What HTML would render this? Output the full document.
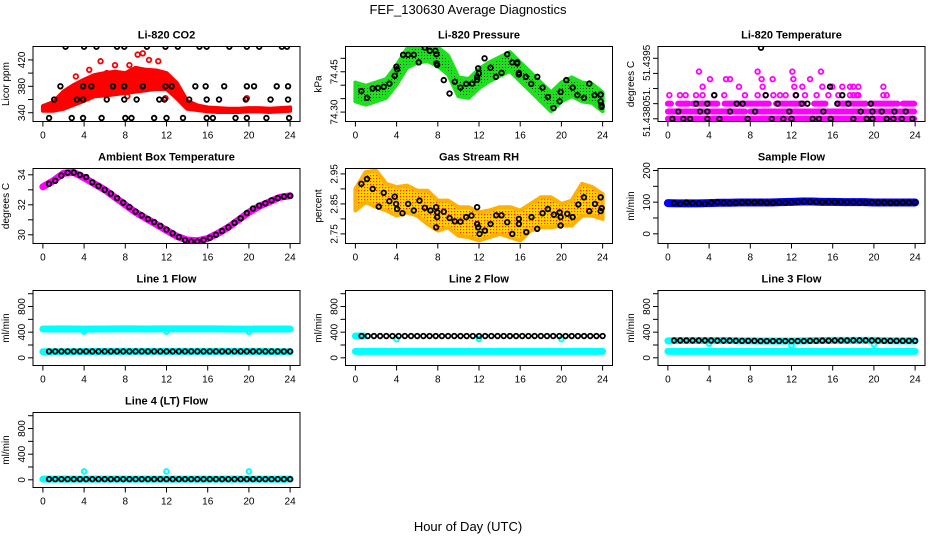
<!DOCTYPE html>
<html><head><meta charset="utf-8">
<style>
html,body{margin:0;padding:0;background:#fff;}
svg{display:block;font-family:"Liberation Sans",Arial,sans-serif;}
</style></head>
<body>
<svg id="chart" width="936" height="540" viewBox="0 0 936 540" xmlns="http://www.w3.org/2000/svg">
<defs>
<pattern id="patRH" width="3" height="3" patternUnits="userSpaceOnUse"><rect width="3" height="3" fill="#ffd400"/><rect x="1" y="1" width="1.2" height="1.2" fill="#ff2000"/></pattern>
<pattern id="patP" width="3" height="3" patternUnits="userSpaceOnUse"><rect width="3" height="3" fill="#1fe01f"/><rect x="1" y="1" width="1" height="1" fill="#064006"/></pattern>
</defs>
<text x="468" y="14" text-anchor="middle" font-size="13">FEF_130630  Average Diagnostics</text>
<text x="468" y="531" text-anchor="middle" font-size="13">Hour of Day (UTC)</text>
</svg>
<script>
// ---------- data ----------
const hours25 = [0,1,2,3,4,5,6,7,8,9,10,11,12,13,14,15,16,17,18,19,20,21,22,23,24];
const blackHours = [0.6,1.2,1.8,2.4,3.0,3.6,4.2,4.8,5.4,6.0,6.6,7.2,7.8,8.4,9.0,9.6,10.2,10.8,11.4,12.0,12.6,13.2,13.8,14.4,15.0,15.6,16.2,16.8,17.4,18.0,18.6,19.2,19.8,20.4,21.0,21.6,22.2,22.8,23.4,24.0];
const xTicks = [0,4,8,12,16,20,24];

// CO2
const co2RedLo = [343,343,346,352,358,365,366,368,370,372,374,376,376,362,346,344,342,341,341,341,342,342,341,342,343];
const co2RedHi = [350,356,372,382,390,397,400,402,400,408,405,404,400,385,358,351,348,347,346,346,347,347,346,347,348];
const co2RedOutHours = [3.2,4.5,5.6,6.2,7.0,8.2,8.4,9.2,9.7,10.3,11.2,11.9,19.8];
const co2RedOutVals = [395,405,418,400,412,365,412,428,430,420,418,362,362];
const co2Blk440 = [2.2,4.0,5.2,7.2,7.9,10.1,11.9,13.1,15.2,15.9,18.1,19.8,21.0,23.2,23.7];
const co2Blk380 = [1.7,3.9,4.7,6.8,7.9,9.7,11.9,12.5,14.8,15.8,17.6,19.8,20.5,22.7,23.8];
const co2Blk360 = [1.1,3.3,3.9,6.2,7.9,9.1,11.3,11.8,14.2,15.9,17.1,19.7,22.1,23.8];
const co2Blk332 = [0.6,2.8,3.9,5.7,8.0,8.6,10.8,12.0,13.6,15.9,16.5,18.7,19.8,21.7,23.9];

// Pressure
const presLo = [74.340,74.328,74.340,74.353,74.403,74.465,74.484,74.490,74.471,74.440,74.359,74.353,74.390,74.415,74.434,74.453,74.415,74.378,74.340,74.303,74.340,74.359,74.340,74.334,74.303];
const presHi = [74.410,74.398,74.410,74.423,74.473,74.535,74.554,74.560,74.541,74.510,74.429,74.423,74.460,74.485,74.504,74.523,74.485,74.448,74.410,74.373,74.410,74.429,74.410,74.404,74.373];
const presBlkHours = [0.58,1.13,1.68,2.2,2.75,3.3,3.82,3.98,4.05,4.63,5.12,5.67,6.15,6.74,7.22,7.77,7.87,7.87,7.94,8.58,9.14,9.65,10.2,10.76,11.34,11.82,11.82,11.92,11.99,12.54,13.12,13.64,14.19,14.74,15.22,15.71,15.71,15.87,15.87,16.55,17.07,17.66,18.17,18.69,19.24,19.83,19.92,20.48,21.09,21.55,22.19,22.71,23.23,23.81,23.81,23.9,23.9];
const presBlkVals = [74.378,74.353,74.388,74.39,74.394,74.406,74.435,74.469,74.459,74.513,74.513,74.513,74.485,74.54,74.528,74.528,74.515,74.481,74.475,74.419,74.369,74.413,74.391,74.405,74.406,74.421,74.431,74.463,74.444,74.50,74.465,74.431,74.446,74.515,74.485,74.481,74.485,74.44,74.446,74.431,74.405,74.431,74.391,74.356,74.315,74.34,74.375,74.419,74.391,74.363,74.353,74.406,74.363,74.365,74.34,74.325,74.319];

// Li-820 temperature
const tLevels = [51.43800,51.43824,51.43850,51.43878,51.43906,51.43931,51.43956];
const tRange0 = [[0,23.9]];
const tRange1 = [[0,7.5],[8.0,18.5],[19,23.9]];
const tRange2 = [[0,0.3],[1.0,2.0],[2.4,4.8],[5.5,9.8],[10.5,13.2],[14.2,15.3],[16.5,19.2],[19.7,22.3],[22.8,23.9]];
const tMag3 = [0.14,1.17,1.72,2.73,3.37,4.5,5.47,7.48,8.71,9.49,10.24,10.88,11.43,12.4,13.31,14.44,15.58,16.55,17.68,18.0,18.33,18.49,20.92,21.24];
const tMag4 = [3.37,6.9,9.2,12.27,13.05,14.99,15.96,16.93,17.68,18.0,18.49,20.92];
const tMag5 = [4.09,5.64,6.03,9.1,10.17,12.18,13.8];
const tMag6 = [3.02,8.71,12.08,14.86];
const tBlk0 = [0.43,1.5,2.15,3.83,5.0,7.74,10.07,11.2,12.0,14.05,14.67,15.8,18.0,19.3,19.85,21.24,21.89,22.7,23.73];
const tBlk1 = [1.01,3.12,3.83,6.03,8.46,11.79,15.1,18.72,19.85,20.76,21.99,23.09];
const tBlk2 = [2.73,3.83,6.68,7.26,10.66,12.99,13.54,16.45,17.52,19.69];
const tBlk3 = [4.5,9.49,12.44,16.93];
const tBlk4 = [15.74];
const tOutHours = [9.04];
const tOutVals = [51.44035];

// Ambient box temperature
const ambMag = [33.2,33.6,34.1,34.15,33.8,33.4,33.0,32.5,32.0,31.5,31.1,30.7,30.3,29.9,29.65,29.6,29.75,30.1,30.5,31.0,31.5,31.9,32.2,32.5,32.6];
const ambBlk = [33.4,33.6,33.95,34.15,34.15,34.0,33.85,33.5,33.25,33.0,32.75,32.45,32.15,31.85,31.55,31.3,31.05,30.85,30.6,30.35,30.1,29.85,29.65,29.55,29.55,29.65,29.8,30.0,30.25,30.5,30.8,31.1,31.45,31.75,31.95,32.1,32.3,32.45,32.55,32.6];

// Gas stream RH
const rhLo = [2.828,2.856,2.84,2.828,2.811,2.822,2.811,2.783,2.761,2.772,2.744,2.739,2.728,2.739,2.75,2.739,2.728,2.761,2.772,2.772,2.778,2.778,2.811,2.811,2.80];
const rhHi = [2.90,2.956,2.961,2.917,2.906,2.911,2.894,2.894,2.861,2.861,2.839,2.839,2.822,2.828,2.839,2.839,2.828,2.85,2.872,2.872,2.85,2.861,2.917,2.906,2.883];
const rhBlkHours = [0.58,1.13,1.68,2.27,2.75,3.30,3.82,3.95,4.05,4.57,5.12,5.67,6.22,6.74,7.29,7.84,7.94,7.94,7.84,8.58,9.14,9.65,10.2,10.75,11.27,11.82,11.82,11.92,12.05,12.57,13.12,13.67,14.19,14.74,15.23,15.87,15.87,16.59,17.1,17.65,18.17,18.69,19.27,19.83,19.92,19.92,20.57,21.09,21.64,22.19,22.71,23.26,23.81,23.81,23.91];
const rhBlkVals = [2.917,2.933,2.90,2.841,2.887,2.859,2.874,2.85,2.833,2.819,2.85,2.828,2.861,2.837,2.828,2.839,2.822,2.806,2.772,2.824,2.803,2.792,2.791,2.806,2.811,2.839,2.783,2.772,2.75,2.761,2.783,2.812,2.812,2.789,2.75,2.80,2.783,2.756,2.806,2.767,2.819,2.833,2.814,2.822,2.806,2.778,2.817,2.806,2.848,2.872,2.826,2.85,2.872,2.826,2.836];

// Sample flow
const sfBlue = [97,96,96,96,97,98,98,99,99,99,99,100,101,102,102,101,101,100,100,100,99,99,99,99,99];
const sfBlk = [97,95,99,97,96,95,99,100,98,97,98,99,100,99,100,98,98,99,99,100,101,102,101,101,100,101,100,101,100,100,99,99,100,99,99,98,98,99,99,99];

// Line flows
const l1CyanHi = [450,450,452,450,448,450,450,452,452,452,450,452,452,452,452,452,452,452,450,448,448,450,450,450,450];
const l1CyanLo = [95,95,95,96,97,98,99,100,100,100,100,100,100,100,100,100,100,100,100,100,100,100,98,95,95];
const l1DipHours = [4,12,20];
const l1DipVals = [410,410,405];
const l1Blk = [100,100,100,100,100,100,100,100,100,100,100,100,100,100,100,100,100,100,100,100,100,100,100,100,100,100,100,100,100,100,100,100,100,100,100,100,100,100,100,100];
const l2CyanHiHours = [0,0.8];
const l2CyanHiVals = [340,340];
const l2CyanLo = [100,100,100,100,100,100,100,100,100,100,100,100,100,100,100,100,100,100,100,100,100,100,100,100,100];
const l2DipHours = [4,12,20];
const l2DipVals = [290,295,290];
const l2Blk = [340,340,340,340,340,340,340,340,340,340,340,340,340,340,340,340,340,340,340,340,340,340,340,340,340,340,340,340,340,340,340,340,340,340,340,340,340,340,340,340];
const l3CyanHi = [265,270,270,270,270,270,270,265,265,262,262,262,262,265,268,270,272,272,272,272,272,268,265,265,265];
const l3CyanLo = [100,100,100,100,100,100,100,100,100,100,100,100,100,100,100,100,100,100,100,100,100,100,100,100,100];
const l3DipHours = [4,12,20];
const l3DipVals = [220,190,210];
const l3Blk = [270,270,270,270,270,270,270,268,268,268,266,265,265,265,262,262,262,262,262,262,262,262,265,265,268,268,270,270,270,272,272,272,270,268,265,265,265,265,265,265];
const l4Cyan = [10,10,10,10,10,10,10,10,10,10,10,10,10,10,10,10,10,10,10,10,10,10,10,10,10];
const l4SpikeHours = [4,12,20];
const l4SpikeVals = [130,130,130];
const l4Blk = [10,10,10,10,10,10,10,10,10,10,10,10,10,10,10,10,10,10,10,10,10,10,10,10,10,10,10,10,10,10,10,10,10,10,10,10,10,10,10,10];

// ---------- drawing ----------
const NS = "http://www.w3.org/2000/svg";
const svg = document.getElementById("chart");
const COLS = [33,345.5,658], ROWS = [46.5,168.5,290.5,412.5], W = 267, H = 75;
function mk(tag, attrs, parent) {
  const e = document.createElementNS(NS, tag);
  for (const k in attrs) e.setAttribute(k, attrs[k]);
  (parent || svg).appendChild(e);
  return e;
}
let clipId = 0;
function panel(col, row, name, title, ylab, lo, hi, yTicks, yLabels) {
  const L = COLS[col], T = ROWS[row], B = T + H;
  const x = h => L + (h + 0.96) / 25.92 * W;
  const y = v => T + H - (v - lo) / (hi - lo) * H;
  const g = mk("g", {});
  
  
  const cp = mk("clipPath", {id: "cp" + (++clipId)}, g);
  mk("rect", {x: L, y: T, width: W, height: H}, cp);
  const plot = mk("g", {"clip-path": "url(#cp" + clipId + ")"}, g);
  
  
  const box = mk("rect", {x: L, y: T, width: W, height: H, fill: "none", stroke: "#000", "stroke-width": 1}, g);
  
  
  const t = mk("text", {x: L + W / 2, y: T - 8, "text-anchor": "middle", "font-size": 11, "font-weight": "bold"}, g);
  t.textContent = title;
  
  
  const yl = mk("text", {x: 0, y: 0, transform: "translate(" + (L - 24) + "," + (T + H / 2) + ") rotate(-90)", "text-anchor": "middle", "font-size": 10}, g);
  yl.textContent = ylab;
  
  
  const xa = mk("g", {}, g);
  
  
  mk("line", {x1: x(0), x2: x(24), y1: B, y2: B, stroke: "#000"}, xa);
  xTicks.forEach(v => {
    mk("line", {x1: x(v), x2: x(v), y1: B, y2: B + 5, stroke: "#000"}, xa);
    const tl = mk("text", {x: x(v), y: B + 17, "text-anchor": "middle", "font-size": 10}, xa);
    tl.textContent = String(v);
    
    
  });
  const ya = mk("g", {}, g);
  
  
  yTicks.forEach(v => mk("line", {x1: L - 5, x2: L, y1: y(v), y2: y(v), stroke: "#000"}, ya));
  yLabels.forEach(p => {
    const tl = mk("text", {x: 0, y: 0, transform: "translate(" + (L - 8) + "," + y(p[0]) + ") rotate(-90)", "text-anchor": "middle", "font-size": 10}, ya);
    tl.textContent = p[1];
    
    
  });
  return {x, y, g: plot};
}
function pts(p, hs, vs, color, name, sw) {
  const g = mk("g", {fill: "none", stroke: color, "stroke-width": sw || 1.8}, p.g);
  
  
  hs.forEach((h, i) => {
    const c = mk("circle", {cx: p.x(h), cy: p.y(vs[i]), r: 2.3}, g);
    
    
  });
}
function levelPts(p, hs, v, color, name) { pts(p, hs, hs.map(() => v), color, name); }
function band(p, hs, lo, hi, fill, stroke, name) {
  let d = "M" + hs.map((h, i) => p.x(h) + "," + p.y(hi[i])).join("L");
  for (let i = hs.length - 1; i >= 0; i--) d += "L" + p.x(hs[i]) + "," + p.y(lo[i]);
  const e = mk("path", {d: d + "Z", fill: fill, stroke: stroke, "stroke-width": 4, "stroke-linejoin": "round"}, p.g);
  
  
}
function line(p, hs, vs, color, w, name) {
  const e = mk("polyline", {points: hs.map((h, i) => p.x(h) + "," + p.y(vs[i])).join(" "), fill: "none", stroke: color, "stroke-width": w, "stroke-linecap": "round", "stroke-linejoin": "round"}, p.g);
  
  
}
function ranges(p, rs, v, color, name) {
  rs.forEach(r => {
    const e = mk("line", {x1: p.x(r[0]), x2: p.x(r[1]), y1: p.y(v), y2: p.y(v), stroke: color, "stroke-width": 6, "stroke-linecap": "round"}, p.g);
    
    
  });
}

// CO2
const pC = panel(0, 0, "co2", "Li-820 CO2", "Licor ppm", 326.7, 440.3, [340,360,380,400,420], [[340,"340"],[380,"380"],[420,"420"]]);
band(pC, hours25, co2RedLo, co2RedHi, "#ff0000", "#ff0000", "co2-red-band");
pts(pC, co2RedOutHours, co2RedOutVals, "#ff0000", "co2-red-points");
levelPts(pC, co2Blk440, 440, "#000", "co2-black-440");
levelPts(pC, co2Blk380, 380, "#000", "co2-black-380");
levelPts(pC, co2Blk360, 360, "#000", "co2-black-360");
levelPts(pC, co2Blk332, 332, "#000", "co2-black-332");

// Pressure
const pP = panel(1, 0, "pressure", "Li-820 Pressure", "kPa", 74.265, 74.544, [74.30,74.35,74.40,74.45,74.50], [[74.30,"74.30"],[74.45,"74.45"]]);
band(pP, hours25, presLo, presHi, "url(#patP)", "#1fe01f", "pressure-green-band");
pts(pP, presBlkHours, presBlkVals, "#000", "pressure-black-points");

// Li-820 temperature
const pT = panel(2, 0, "li820-temp", "Li-820 Temperature", "degrees C", 51.43791, 51.44039, [51.4380,51.4385,51.4390,51.4395,51.4400], [[51.4380,"51.4380"],[51.43882,"51."],[51.43985,"51.4395"]]);
ranges(pT, tRange0, tLevels[0], "#ff00ff", "temp-magenta-row");
ranges(pT, tRange1, tLevels[1], "#ff00ff", "temp-magenta-row");
ranges(pT, tRange2, tLevels[2], "#ff00ff", "temp-magenta-row");
levelPts(pT, tMag3, tLevels[3], "#ff00ff", "temp-magenta-3");
levelPts(pT, tMag4, tLevels[4], "#ff00ff", "temp-magenta-4");
levelPts(pT, tMag5, tLevels[5], "#ff00ff", "temp-magenta-5");
levelPts(pT, tMag6, tLevels[6], "#ff00ff", "temp-magenta-6");
levelPts(pT, tBlk0, tLevels[0], "#000", "temp-black-0");
levelPts(pT, tBlk1, tLevels[1], "#000", "temp-black-1");
levelPts(pT, tBlk2, tLevels[2], "#000", "temp-black-2");
levelPts(pT, tBlk3, tLevels[3], "#000", "temp-black-3");
levelPts(pT, tBlk4, tLevels[4], "#000", "temp-black-4");
pts(pT, tOutHours, tOutVals, "#000", "temp-black-outlier");

// Ambient
const pA = panel(0, 1, "ambient", "Ambient Box Temperature", "degrees C", 29.42, 34.42, [30,31,32,33,34], [[30,"30"],[32,"32"],[34,"34"]]);
line(pA, hours25, ambMag, "#ff00ff", 7, "ambient-magenta-line");
pts(pA, blackHours, ambBlk, "#000", "ambient-black-points");

// RH
const pR = panel(1, 1, "rh", "Gas Stream RH", "percent", 2.718, 2.968, [2.75,2.80,2.85,2.90,2.95], [[2.75,"2.75"],[2.85,"2.85"],[2.95,"2.95"]]);
band(pR, hours25, rhLo, rhHi, "url(#patRH)", "#ffb000", "rh-orange-band");
pts(pR, rhBlkHours, rhBlkVals, "#000", "rh-black-points");

// Sample flow
const pS = panel(2, 1, "sample-flow", "Sample Flow", "ml/min", -30.6, 206.3, [0,50,100,150,200], [[0,"0"],[100,"100"],[200,"200"]]);
line(pS, hours25, sfBlue, "#0000ff", 8, "sample-flow-blue-line");
pts(pS, blackHours, sfBlk, "#000", "sample-flow-black-points");

const lt = [0,200,400,600,800,1000], ll = [[0,"0"],[400,"400"],[800,"800"]];
// Line 1
const p1 = panel(0, 2, "line1", "Line 1 Flow", "ml/min", -120, 1050, lt, ll);
line(p1, hours25, l1CyanHi, "#00ffff", 7, "line1-cyan-high");
line(p1, hours25, l1CyanLo, "#00ffff", 7, "line1-cyan-low");
pts(p1, l1DipHours, l1DipVals, "#00ffff", "line1-cyan-dips", 2);
pts(p1, blackHours, l1Blk, "#000", "line1-black-points");
// Line 2
const p2 = panel(1, 2, "line2", "Line 2 Flow", "ml/min", -120, 1050, lt, ll);
line(p2, l2CyanHiHours, l2CyanHiVals, "#00ffff", 7, "line2-cyan-high");
line(p2, hours25, l2CyanLo, "#00ffff", 7, "line2-cyan-low");
pts(p2, l2DipHours, l2DipVals, "#00ffff", "line2-cyan-dips", 2);
pts(p2, blackHours, l2Blk, "#000", "line2-black-points");
// Line 3
const p3 = panel(2, 2, "line3", "Line 3 Flow", "ml/min", -120, 1050, lt, ll);
line(p3, hours25, l3CyanHi, "#00ffff", 7, "line3-cyan-high");
line(p3, hours25, l3CyanLo, "#00ffff", 7, "line3-cyan-low");
pts(p3, l3DipHours, l3DipVals, "#00ffff", "line3-cyan-dips", 2);
pts(p3, blackHours, l3Blk, "#000", "line3-black-points");
// Line 4
const p4 = panel(0, 3, "line4", "Line 4 (LT) Flow", "ml/min", -120, 1050, lt, ll);
line(p4, hours25, l4Cyan, "#00ffff", 7, "line4-cyan");
pts(p4, l4SpikeHours, l4SpikeVals, "#00ffff", "line4-cyan-spikes", 2);
pts(p4, blackHours, l4Blk, "#000", "line4-black-points");
</script>
</body></html>
